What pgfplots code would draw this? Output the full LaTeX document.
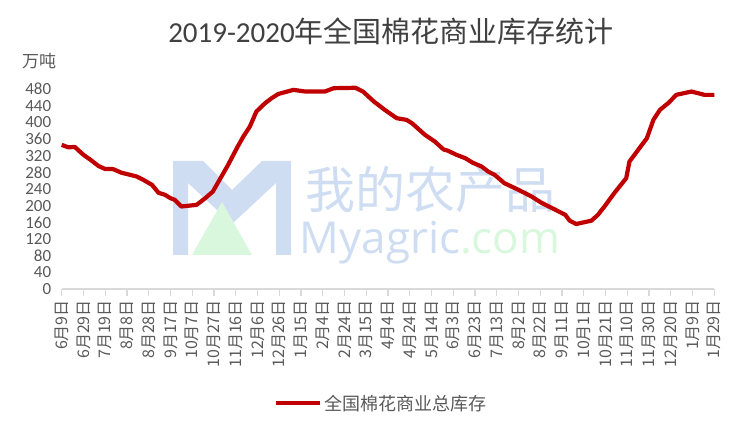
\documentclass[border=0pt]{standalone}
\usepackage{fontspec}
\setmainfont{Carlito}
\newfontfamily\cjk{Noto Sans CJK SC}
\newfontfamily\wmfont{Open Sans}
\usepackage{pgfplots}
\pgfplotsset{compat=1.18}
\definecolor{linered}{HTML}{C00000}
\definecolor{txtgray}{HTML}{595959}
\definecolor{titlegray}{HTML}{404040}
\definecolor{axgray}{HTML}{D9D9D9}
\definecolor{wmblue}{HTML}{CFDDF3}
\definecolor{wmgreen}{HTML}{D8F7DD}
\begin{document}
\begin{tikzpicture}
\useasboundingbox (0pt,0pt) rectangle (751pt,438pt);
% watermark
\begin{scope}[x=1pt,y=1pt]
\fill[wmblue] (173,277) -- (203,277) -- (232,248) -- (262,277) -- (291,277) -- (291,183) -- (276,183) -- (276,255) -- (232,214) -- (188,255) -- (188,183) -- (173,183) -- cycle;
\fill[wmgreen] (192,183) -- (222,236) -- (252,183) -- cycle;
\node[text=wmblue, font=\cjk\fontsize{50}{50}\selectfont] at (430,248) {我的农产品};
\node[font=\wmfont\fontsize{44}{44}\selectfont] at (430,195) {\textcolor{wmblue}{Myagric}\textcolor{wmgreen}{.com}};
\end{scope}
\begin{axis}[
  at={(61.7pt,149pt)}, anchor=origin,
  scale only axis, width=652.6pt, height=208.3pt,
  xmin=0, xmax=600, ymin=0, ymax=500,
  axis x line=bottom, axis y line=left,
  x axis line style={-, draw=axgray, line width=1.5pt},
  y axis line style={-, draw=none},
  xtick={0,20,...,600},
  xticklabels={6月9日,6月29日,7月19日,8月8日,8月28日,9月17日,10月7日,10月27日,11月16日,12月6日,12月26日,1月15日,2月4日,2月24日,3月15日,4月4日,4月24日,5月14日,6月3日,6月23日,7月13日,8月2日,8月22日,9月11日,10月1日,10月21日,11月10日,11月30日,12月20日,1月9日,1月29日},
  ytick={0,40,...,480},
  tick align=outside,
  major tick length=7pt,
  xtick style={draw=axgray, line width=1.2pt},
  ytick style={draw=none},
  xticklabel style={font=\cjk\fontsize{16}{16}\selectfont, text=txtgray, rotate=90, anchor=east, inner sep=4pt},
  yticklabel style={font=\fontsize{17}{17}\selectfont, text=txtgray, anchor=east},
  /pgf/number format/assume math mode=true,
  clip=false,
  legend style={at={(0.49,-0.548)}, anchor=center, draw=none, fill=none, font=\cjk\fontsize{18}{18}\selectfont, text=txtgray},
  legend image code/.code={\draw[#1, line width=4.2pt] (0pt,0pt) -- (44pt,0pt);},
]
\addplot[linered, line width=4.2pt, line join=round, mark=none] table {
x y
0 346
6 340
12 341
20 322
26 311
34 295
40 288
47 288
55 279
63 274
69 270
75 262
83 250
89 231
95 226
100 218
104 214
110 198
124 202
132 218
139 234
146 266
153 298
161 338
167 366
173 390
179 426
187 446
193 458
199 468
213 478
224 474
242 474
250 482
270 483
277 474
287 450
297 430
308 410
317 406
322 398
334 370
343 354
351 335
355 332
363 322
371 314
378 303
386 294
392 282
398 274
407 254
420 238
432 222
441 207
454 190
463 178
467 164
473 156
487 164
493 178
499 198
508 230
519 266
522 306
530 334
538 362
544 406
550 430
558 447
565 466
579 474
591 466
600 466
};
\addlegendentry{全国棉花商业总库存}
\end{axis}
\node[text=titlegray, font=\fontsize{29}{29}\selectfont] at (391pt,407pt) {2019-2020{\cjk 年全国棉花商业库存统计}};
\node[text=txtgray, font=\cjk\fontsize{17}{17}\selectfont] at (39pt,377pt) {万吨};
\end{tikzpicture}
\end{document}
